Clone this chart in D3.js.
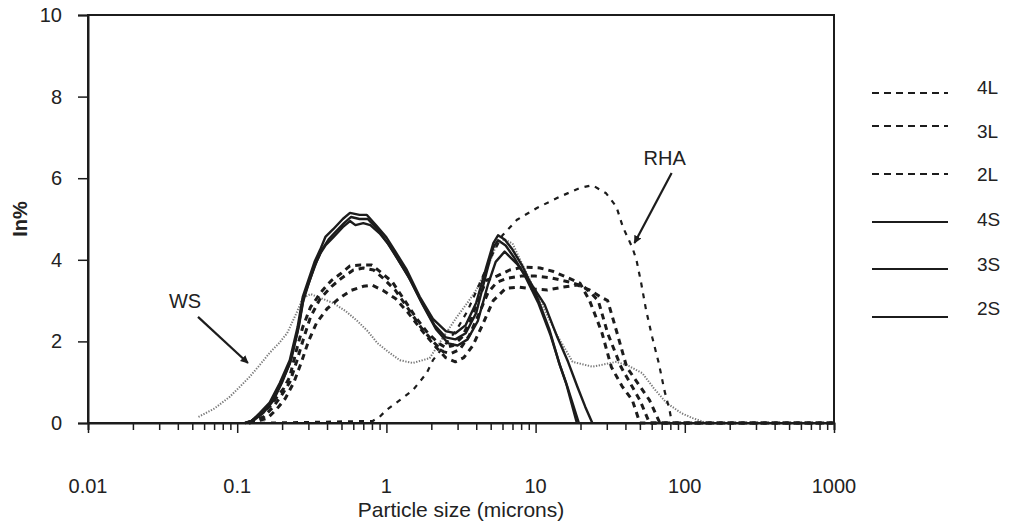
<!DOCTYPE html>
<html>
<head>
<meta charset="utf-8">
<script src="https://cdn.jsdelivr.net/npm/d3@7"></script>
<style>
  body { margin: 0; background: #fff; }
  svg text { font-family: "Liberation Sans", Arial, sans-serif; fill: #222; }
</style>
</head>
<body>
<svg id="chart" width="1011" height="523"></svg>
<script>
/*
 * Data  [particle size (microns), In%]
 *****************************/
const ws = [[0.055,0.15],[0.07,0.35],[0.089,0.64],[0.105,0.9],[0.121,1.13],[0.14,1.4],[0.165,1.72],[0.19,1.95],[0.216,2.2],[0.25,2.7],[0.275,3.06],[0.31,3.16],[0.37,3.05],[0.44,2.94],[0.53,2.75],[0.63,2.52],[0.75,2.25],[0.87,1.96],[1.05,1.72],[1.23,1.54],[1.5,1.47],[1.95,1.59],[2.4,2.1],[2.97,2.6],[3.5,2.95],[4.0,3.26],[4.9,3.92],[5.5,4.4],[6.2,4.5],[7.0,4.4],[8.5,3.75],[10.7,3.0],[13.7,2.2],[17.7,1.5],[24,1.38],[30,1.45],[34.8,1.5],[42,1.4],[52,1.22],[62,0.85],[75,0.5],[95,0.24],[113,0.12],[140,0]];

const rha = [[0.12,0],[0.81,0.05],[0.9,0.15],[1.0,0.32],[1.23,0.56],[1.5,0.8],[1.86,1.22],[2.05,1.54],[2.4,1.86],[2.95,2.28],[3.5,2.75],[4.2,3.4],[5,4.05],[6,4.6],[7.5,4.98],[10.2,5.27],[14.4,5.54],[19.8,5.76],[24,5.83],[29.7,5.63],[34.8,5.3],[38.5,4.8],[44.5,4.3],[47.4,4.0],[51,3.43],[55,2.77],[60.5,2.1],[67,1.46],[73,0.8],[79,0.32],[82,0],[1000,0]];

const l4 = [[0.12,0],[0.142,0.2],[0.165,0.4],[0.185,0.64],[0.205,0.85],[0.225,1.13],[0.25,1.8],[0.275,2.35],[0.31,2.84],[0.375,3.26],[0.43,3.5],[0.49,3.65],[0.57,3.85],[0.67,3.87],[0.8,3.87],[0.95,3.65],[1.1,3.45],[1.3,3.05],[1.6,2.55],[1.9,2.2],[2.25,1.95],[2.5,1.85],[2.8,1.9],[3.2,2.1],[3.7,2.55],[4.2,3.1],[4.7,3.5],[5.5,3.6],[6.7,3.75],[8.2,3.82],[10.7,3.8],[13,3.72],[16,3.58],[19.8,3.43],[23,3.0],[26,2.5],[27.9,2.2],[32.2,1.37],[38,0.9],[44.5,0.56],[50,0],[1000,0]];

const l3 = [[0.12,0],[0.15,0.15],[0.175,0.4],[0.2,0.7],[0.225,1.0],[0.25,1.5],[0.28,2.1],[0.31,2.6],[0.36,3.05],[0.43,3.35],[0.5,3.55],[0.6,3.75],[0.7,3.8],[0.82,3.75],[0.95,3.55],[1.15,3.25],[1.4,2.8],[1.7,2.35],[2.05,2.0],[2.4,1.75],[2.7,1.7],[3.1,1.8],[3.6,2.15],[4.2,2.7],[4.8,3.2],[5.5,3.45],[6.5,3.55],[8,3.6],[10,3.6],[13,3.55],[17,3.45],[21,3.35],[24,3.15],[26.3,3.0],[30.4,2.2],[37.4,1.37],[50,0.56],[58,0],[1000,0]];

const l2 = [[0.12,0],[0.16,0.12],[0.185,0.35],[0.21,0.6],[0.24,1.0],[0.27,1.5],[0.3,2.0],[0.34,2.45],[0.4,2.8],[0.48,3.05],[0.58,3.25],[0.7,3.35],[0.8,3.38],[0.95,3.25],[1.15,3.05],[1.4,2.7],[1.7,2.3],[2.1,1.9],[2.5,1.6],[2.9,1.5],[3.3,1.6],[3.8,1.9],[4.4,2.4],[5.2,3.0],[6.3,3.3],[7.8,3.33],[10,3.28],[12,3.26],[15.2,3.33],[19,3.38],[23,3.26],[27,3.1],[30.4,3.0],[35.2,2.2],[40.8,1.37],[58,0.56],[68,0],[1000,0]];

const s4 = [[0.113,0],[0.125,0.05],[0.142,0.25],[0.165,0.5],[0.193,0.98],[0.225,1.54],[0.254,2.35],[0.275,3.09],[0.3,3.5],[0.33,3.95],[0.36,4.25],[0.39,4.56],[0.44,4.75],[0.51,5.0],[0.57,5.15],[0.66,5.1],[0.74,5.1],[0.85,4.85],[1.0,4.55],[1.15,4.2],[1.37,3.75],[1.67,3.1],[2.05,2.55],[2.5,2.25],[2.9,2.2],[3.4,2.4],[4.0,2.95],[4.7,3.85],[5.2,4.4],[5.6,4.6],[6.2,4.5],[7.0,4.25],[8.2,3.83],[10.2,3.1],[12.4,2.28],[14.4,1.46],[16,0.98],[18.9,0]];

const s3 = [[0.113,0],[0.125,0.05],[0.142,0.22],[0.165,0.45],[0.193,0.9],[0.225,1.45],[0.254,2.25],[0.275,2.95],[0.3,3.4],[0.33,3.85],[0.36,4.15],[0.39,4.35],[0.44,4.55],[0.51,4.8],[0.57,4.95],[0.62,4.85],[0.7,4.9],[0.78,4.85],[0.9,4.65],[1.05,4.35],[1.2,4.0],[1.4,3.6],[1.7,3.0],[2.1,2.4],[2.5,2.1],[2.9,2.05],[3.4,2.2],[4.0,2.7],[4.7,3.7],[5.2,4.3],[5.6,4.48],[6.3,4.35],[7.2,4.05],[8.5,3.6],[10.4,2.95],[12.6,2.15],[14.6,1.4],[16.3,0.9],[19.5,0]];

const s2 = [[0.113,0],[0.13,0.07],[0.15,0.25],[0.175,0.55],[0.2,1.0],[0.23,1.55],[0.26,2.4],[0.28,3.1],[0.31,3.55],[0.34,3.95],[0.37,4.25],[0.41,4.5],[0.46,4.7],[0.52,4.9],[0.58,5.05],[0.66,5.0],[0.75,5.0],[0.87,4.75],[1.0,4.45],[1.2,4.0],[1.45,3.5],[1.75,2.9],[2.15,2.3],[2.6,1.95],[3.0,1.9],[3.5,2.05],[4.1,2.5],[4.8,3.4],[5.4,3.95],[6.2,4.2],[7.5,3.9],[9,3.5],[11.5,2.9],[14,2.1],[16.5,1.5],[19,0.9],[21.5,0.4],[24,0]];

const yTicks = [0, 2, 4, 6, 8, 10];
const xMajors = [0.01, 0.1, 1, 10, 100, 1000];
const xLabels = ["0.01", "0.1", "1", "10", "100", "1000"];

// legend rows
const legendNames = ["4L", "3L", "2L", "4S", "3S", "2S"];

// annotations in data units: [label, label x, label y, arrow from x, y, arrow to x, y]
const annWS  = ["WS",  0.0447, 2.82, 0.0546, 2.6, 0.118, 1.47];
const annRHA = ["RHA", 73.3, 6.32, 81.6, 6.13, 46.0, 4.41];

/*
 * Layout
 *****************************/
const margin = {left: 88, top: 15, right: 177, bottom: 100};
const width = 1011, height = 523;
const svg = d3.select("#chart");

const x = d3.scaleLog().domain([0.01, 1000]).range([margin.left, width - margin.right]);
const y = d3.scaleLinear().domain([0, 10]).range([height - margin.bottom, margin.top]);

const ink = "#1c1c1c";

const styles = {
  ws:  {stroke: "#7a7a7a", width: 2, dash: "1.3,1.5"},
  rha: {stroke: ink, width: 2.2, dash: "5,6"},
  L:   {stroke: ink, width: 3.0, dash: "6,5"},
  S:   {stroke: ink, width: 2.4, dash: null}
};

const line = d3.line()
  .x(d => x(d[0]))
  .y(d => y(d[1]))
  .curve(d3.curveLinear);

const series = [
  {data: ws, st: styles.ws},
  {data: rha, st: styles.rha},
  {data: l2, st: styles.L},
  {data: l3, st: styles.L},
  {data: l4, st: styles.L},
  {data: s2, st: styles.S},
  {data: s3, st: styles.S},
  {data: s4, st: styles.S}
];

svg.append("g").selectAll("path")
  .data(series)
  .enter()
  .append("path")
  .attr("d", d => line(d.data))
  .attr("fill", "none")
  .attr("stroke", d => d.st.stroke)
  .attr("stroke-width", d => d.st.width)
  .attr("stroke-dasharray", d => d.st.dash)
  .attr("stroke-linejoin", "round");

// frame
svg.append("rect")
  .attr("x", x(0.01)).attr("y", y(10))
  .attr("width", x(1000) - x(0.01)).attr("height", y(0) - y(10))
  .attr("fill", "none").attr("stroke", ink).attr("stroke-width", 2);

// x ticks (all log ticks, drawn downward)
const allTicks = [];
xMajors.slice(0, -1).forEach(m => { for (let k = 1; k < 10; k++) allTicks.push(m * k); });
allTicks.push(1000);

const xAxis = svg.append("g")
  .attr("transform", `translate(0,${y(0)})`)
  .call(d3.axisBottom(x).tickValues(allTicks).tickSize(7).tickFormat(""));
xAxis.select(".domain").attr("stroke", ink).attr("stroke-width", 2);
xAxis.selectAll(".tick line")
  .attr("stroke", ink).attr("stroke-width", 1.5)
  .attr("y2", d => xMajors.some(m => Math.abs(m - d) / m < 1e-6) ? 10 : 7);

svg.append("g").selectAll("text")
  .data(xMajors)
  .enter()
  .append("text")
  .attr("x", d => x(d))
  .attr("y", 493)
  .attr("text-anchor", "middle")
  .style("font-size", "20px")
  .text((d, i) => xLabels[i]);

// y axis
const yAxis = svg.append("g")
  .attr("transform", `translate(${x(0.01)},0)`)
  .call(d3.axisLeft(y).tickValues(yTicks).tickSize(10).tickPadding(16));
yAxis.select(".domain").attr("stroke", ink).attr("stroke-width", 2);
yAxis.selectAll(".tick line").attr("stroke", ink).attr("stroke-width", 1.5);
yAxis.selectAll(".tick text")
  .style("font-size", "20px")
  .style("font-family", "Liberation Sans, Arial, sans-serif")
  .attr("fill", "#222");

// axis titles
svg.append("text")
  .attr("transform", `translate(27,${(y(0) + y(10)) / 2}) rotate(-90)`)
  .attr("text-anchor", "middle")
  .style("font-size", "20px")
  .style("font-weight", "bold")
  .text("In%");

svg.append("text")
  .attr("x", (x(0.01) + x(1000)) / 2)
  .attr("y", 517)
  .attr("text-anchor", "middle")
  .style("font-size", "21px")
  .text("Particle size (microns)");

// annotations with arrows
svg.append("defs").append("marker")
  .attr("id", "arrow")
  .attr("viewBox", "0 0 10 10")
  .attr("refX", 9).attr("refY", 5)
  .attr("markerWidth", 8).attr("markerHeight", 8)
  .attr("markerUnits", "userSpaceOnUse")
  .attr("orient", "auto")
  .append("path")
  .attr("d", "M0,0 L10,5 L0,10 Z")
  .attr("fill", ink);

[annWS, annRHA].forEach(a => {
  svg.append("text")
    .attr("x", x(a[1])).attr("y", y(a[2]))
    .attr("text-anchor", "middle")
    .style("font-size", "20px")
    .text(a[0]);
  svg.append("line")
    .attr("x1", x(a[3])).attr("y1", y(a[4]))
    .attr("x2", x(a[5])).attr("y2", y(a[6]))
    .attr("stroke", ink).attr("stroke-width", 2.2)
    .attr("marker-end", "url(#arrow)");
});

// legend
const legendLineY = [93, 126, 174, 222, 269, 317];
const legendTextY = [94, 138, 181, 226, 271, 315];
const leg = svg.append("g");
legendNames.forEach((name, i) => {
  const isL = name.endsWith("L");
  leg.append("line")
    .attr("x1", 872).attr("x2", 948)
    .attr("y1", legendLineY[i]).attr("y2", legendLineY[i])
    .attr("stroke", ink)
    .attr("stroke-width", isL ? 2.2 : 2)
    .attr("stroke-dasharray", isL ? "7,5" : null);
  leg.append("text")
    .attr("x", 977).attr("y", legendTextY[i])
    .style("font-size", "19px")
    .text(name);
});
</script>
</body>
</html>
